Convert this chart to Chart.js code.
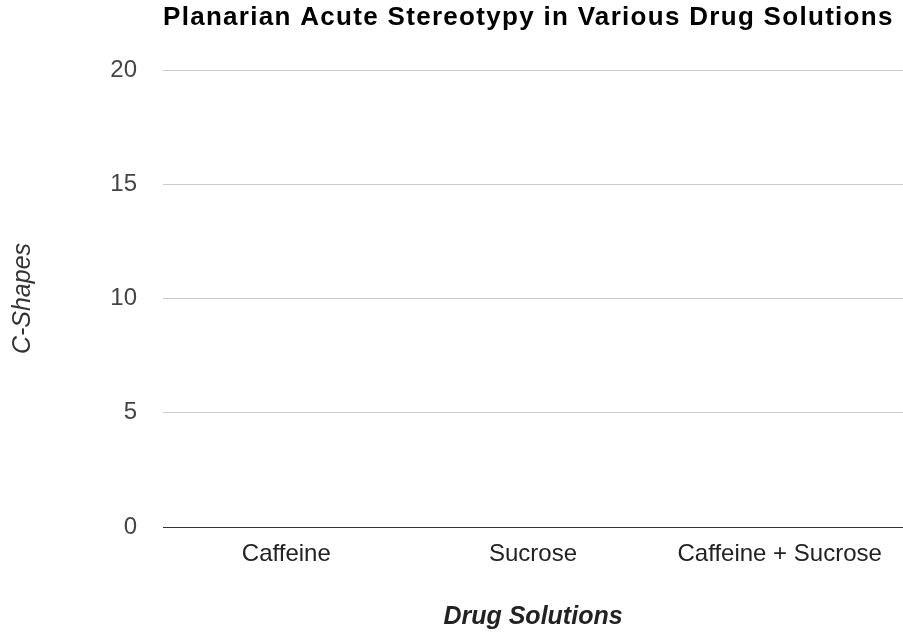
<!DOCTYPE html>
<html>
<head>
<meta charset="utf-8">
<script src="https://cdn.jsdelivr.net/npm/chart.js@4/dist/chart.umd.min.js"></script>
<style>
  html, body { margin: 0; padding: 0; background: #fff; }
  #wrap { width: 903px; height: 634px; position: relative; }
</style>
</head>
<body>
<div id="wrap"><canvas id="c" width="903" height="634"></canvas></div>
<script>
// 空图：三组溶液的 C 形计数都没有数据
var categories = ['Caffeine', 'Sucrose', 'Caffeine + Sucrose'];
var cShapes = [0, 0, 0];
var yTicks = [0, 5, 10, 15, 20];

var titleText = 'Planarian Acute Stereotypy in Various Drug Solutions';
var xTitle = 'Drug Solutions';
var yTitle = 'C-Shapes';

var textPlugin = {
    id: 'textPlugin',
    afterDraw: function(chart) {
        var ctx = chart.ctx, a = chart.chartArea;
        ctx.save();
        ctx.fillStyle = '#000';
        ctx.font = 'bold 26px "Liberation Sans", Arial, sans-serif';
        ctx.letterSpacing = '1.3px';
        ctx.textBaseline = 'middle';
        ctx.textAlign = 'left';
        ctx.fillText(titleText, a.left, 18);
        ctx.letterSpacing = '0px';

        ctx.fillStyle = '#222';
        ctx.font = 'italic bold 25px "Liberation Sans", Arial, sans-serif';
        ctx.textAlign = 'center';
        ctx.fillText(xTitle, (a.left + a.right) / 2, 617);

        ctx.translate(23, (a.top + a.bottom) / 2);
        ctx.rotate(-Math.PI / 2);
        ctx.fillStyle = '#333';
        ctx.font = 'italic 25px "Liberation Sans", Arial, sans-serif';
        ctx.fillText(yTitle, 0, 0);
        ctx.restore();
    }
};

new Chart(document.getElementById('c').getContext('2d'), {
    type: 'bar',
    data: {
        labels: categories,
        datasets: [{
            label: yTitle,
            data: cShapes,
            backgroundColor: '#3366cc'
        }]
    },
    options: {
        responsive: false,
        animation: false,
        layout: { padding: { top: 70, left: 0, right: 0, bottom: 0 } },
        plugins: { legend: { display: false }, tooltip: { enabled: false }, title: { display: false } },
        scales: {
            x: {
                grid: { display: false, drawTicks: false },
                border: { display: false },
                ticks: { color: '#222', padding: 13, font: { family: '"Liberation Sans", Arial, sans-serif', size: 24 } },
                afterFit: function(s) { s.height = 107; }
            },
            y: {
                min: 0, max: 20,
                afterBuildTicks: function(s) { s.ticks = yTicks.map(function(v) { return { value: v }; }); },
                grid: {
                    drawTicks: false,
                    color: function(c) { return c.tick && c.tick.value === 0 ? '#333' : '#ccc'; }
                },
                border: { display: false },
                ticks: { color: '#444', padding: 26, font: { family: '"Liberation Sans", Arial, sans-serif', size: 24 } },
                afterFit: function(s) { s.width = 163; }
            }
        }
    },
    plugins: [textPlugin]
});
</script>
</body>
</html>
